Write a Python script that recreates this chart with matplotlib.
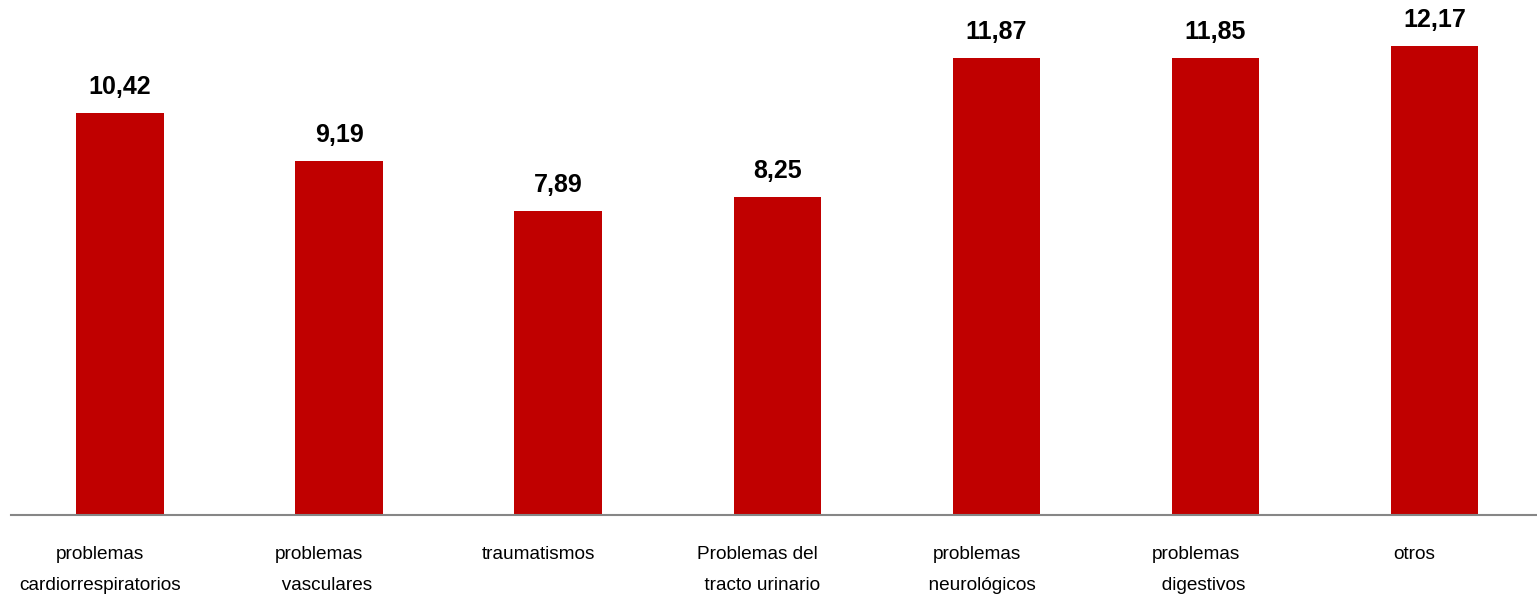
import matplotlib.pyplot as plt
from matplotlib.transforms import offset_copy

plt.rcParams['font.family'] = ['Liberation Sans', 'DejaVu Sans']

categories = [
    "problemas\ncardiorrespiratorios",
    "problemas\n   vasculares",
    "traumatismos",
    "Problemas del\n  tracto urinario",
    "problemas\n  neurológicos",
    "problemas\n   digestivos",
    "otros",
]
values = [10.42, 9.19, 7.89, 8.25, 11.87, 11.85, 12.17]
value_labels = ["10,42", "9,19", "7,89", "8,25", "11,87", "11,85", "12,17"]

W, H = 1537, 594
fig = plt.figure(figsize=(W / 100, H / 100), dpi=100)
# plot area: baseline 79 px above the bottom, category slots ~219 px wide
ax = fig.add_axes([10.5 / W, 79 / H, 7 * 219.1 / W, 515 / H])

x = list(range(len(categories)))
bars = ax.bar(x, values, width=0.4, color="#C00000", zorder=2)
ax.set_xlim(-0.5, len(categories) - 0.5)
ax.set_ylim(0, 515 / 38.54)

for spine in ["top", "right", "left"]:
    ax.spines[spine].set_visible(False)
ax.spines["bottom"].set_color("#868686")
ax.spines["bottom"].set_linewidth(1.5)
ax.set_xticks([])
ax.set_yticks([])

# value labels above each bar
for xi, v, lab in zip(x, values, value_labels):
    ax.annotate(lab, (xi, v), xytext=(0, 19), textcoords="offset pixels",
                ha="center", va="baseline", fontsize=18, fontweight="bold",
                color="black")

# category names under the axis, one text per line
trans = ax.get_xaxis_transform()
for xi, name in zip(x, categories):
    for k, line in enumerate(name.split("\n")):
        t = offset_copy(trans, fig=fig, x=-20, y=-44 - 31 * k, units="dots")
        ax.text(xi, 0, line, transform=t, ha="center", va="baseline",
                fontsize=13.7, color="black")

fig.savefig("out.png", dpi=100)
